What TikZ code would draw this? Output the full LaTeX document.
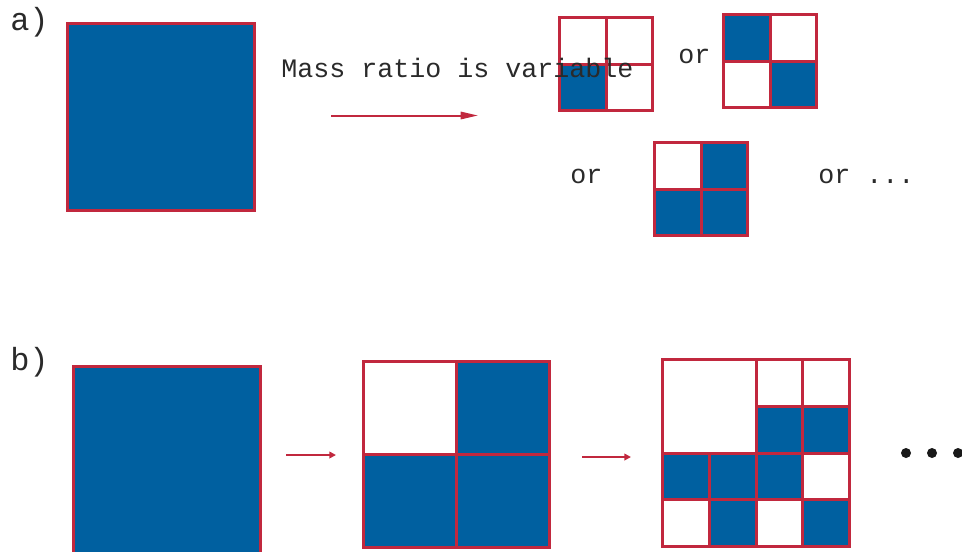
\documentclass[tikz,border=0pt]{standalone}
\usepackage{fontspec}
\setmonofont{Liberation Mono}
\usetikzlibrary{arrows.meta}
\definecolor{cblue}{HTML}{0060A0}
\definecolor{cred}{HTML}{C1283E}
\definecolor{ctext}{HTML}{2A2A2A}
\tikzset{
  gridline/.style={draw=cred, line width=2.25pt},
  bigsq/.style={draw=cred, fill=cblue, line width=2.25pt, minimum size=140.25pt, inner sep=0pt, outer sep=0pt, anchor=north west},
  lbl/.style={font=\ttfamily\fontsize{20}{24}\selectfont, text=ctext, inner sep=0pt, anchor=base west},
  plbl/.style={font=\ttfamily\fontsize{24}{28}\selectfont, text=ctext, inner sep=0pt, anchor=base west},
  flow/.style={draw=cred, line width=1.5pt, -{Triangle[length=13pt,width=5.5pt]}},
  flowsmall/.style={draw=cred, line width=1.8pt, -{Triangle[length=5pt,width=5pt]}},
  pics/quad/.style n args={4}{code={
    \fill[#1] (0,0) rectangle (48,48);
    \fill[#2] (48,0) rectangle (96,48);
    \fill[#3] (0,48) rectangle (48,96);
    \fill[#4] (48,48) rectangle (96,96);
    \draw[gridline] (0,0) rectangle (96,96) (48,0) -- (48,96) (0,48) -- (96,48);
  }},
}
\begin{document}
\begin{tikzpicture}[x=0.75pt,y=-0.75pt]
\useasboundingbox (0,0) rectangle (962,551);
\clip (0,0) rectangle (962,551);

% ---- part a
\node[plbl] (la) at (10,30) {a)};
\node[bigsq] (A0) at (67.5,23.5) {};
\coordinate (a1) at (331,115.5);
\coordinate (a2) at (478,115.5);
\draw[flow] (a1) -- (a2);

\pic[scale=93/96] at (559.5,17.5) {quad={white}{white}{cblue}{white}};
\pic[scale=93/96] at (723.5,14.5) {quad={cblue}{white}{white}{cblue}};
\pic[scale=93/96] at (654.5,142.5) {quad={white}{cblue}{cblue}{cblue}};

\node[lbl] (mr) at (281,77) {Mass ratio is variable};
\node[lbl] (or1) at (678,63) {or};
\node[lbl] (or2) at (570,183) {or};
\node[lbl] (or3) at (818,183) {or ...};

% ---- part b
\node[plbl] (lb) at (10,370) {b)};
\node[bigsq] (B0) at (73.5,366.5) {};
\coordinate (b1s) at (286,455);
\coordinate (b1e) at (336,455);
\draw[flowsmall] (b1s) -- (b1e);

\pic[scale=186/96] at (363.5,361.5) {quad={white}{cblue}{cblue}{cblue}};

\coordinate (b2s) at (582,457);
\coordinate (b2e) at (631,457);
\draw[flowsmall] (b2s) -- (b2e);

\begin{scope}[shift={(662.5,359.5)}, x=35.06pt, y=-35.06pt]
  \foreach \c/\r in {2/1,3/1,0/2,1/2,2/2,1/3,3/3}
    \fill[cblue] (\c,\r) rectangle ++(1,1);
  \draw[gridline] (0,0) rectangle (4,4)
    (2,0) -- (2,4) (3,0) -- (3,4) (1,2) -- (1,4)
    (0,2) -- (4,2) (0,3) -- (4,3) (2,1) -- (4,1);
\end{scope}

\fill[black!90] (906,453) circle (5) (932,453) circle (5) (958,453) circle (5);
\end{tikzpicture}
\end{document}
